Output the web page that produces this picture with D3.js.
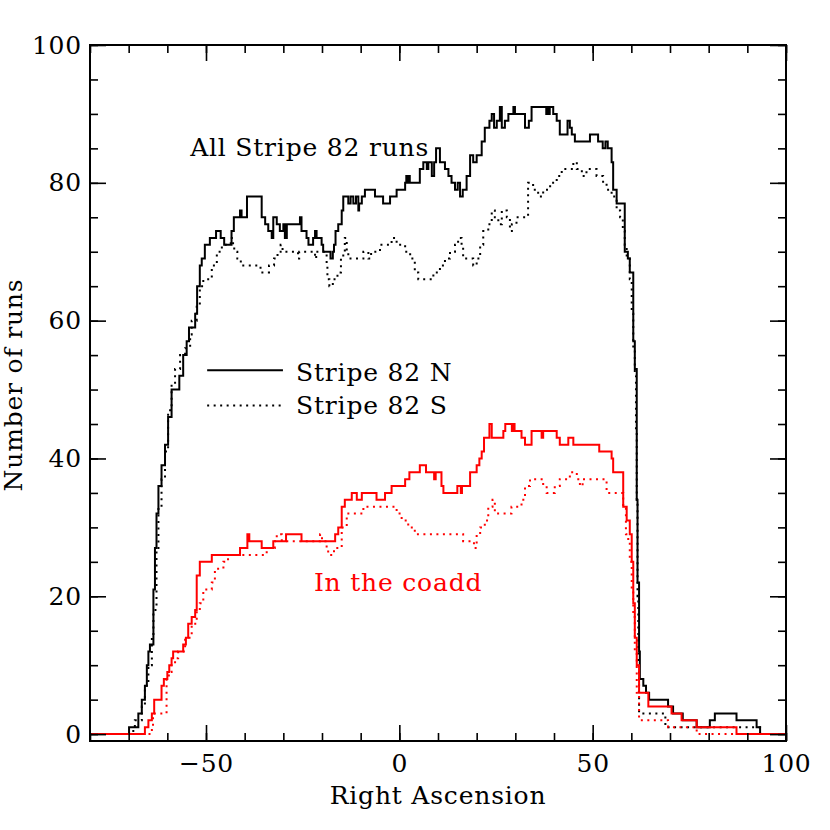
<!DOCTYPE html>
<html>
<head>
<meta charset="utf-8">
<script src="https://cdn.jsdelivr.net/npm/d3@7"></script>
<style>
  body { margin: 0; background: #fff; }
  text { font-family: "DejaVu Serif", serif; letter-spacing: 0.8px; }
</style>
</head>
<body>
<div id="chart"></div>
<script>
// Dimensions
const width = 830;
const height = 830;
const margin = {top: 45, right: 44, bottom: 89, left: 90};
const fontSize = "25px";

// --- Data: step histograms (RA where the count changes, count from there on) ---
const nRA = [-80, -69.9, -67.5, -66.6, -65.8, -65.3, -64.9, -64.5, -63.6, -63.2, -62.8, -62.3, -61.5, -60.6, -59.8, -58.9,
  -56.9, -55.9, -55.0, -54.4, -52.8, -52.3, -51.6, -51.1, -50.3, -49.0, -47.4, -46.2, -45.3, -43.4, -42.8, -41.2,
  -40.8, -39.4, -35.6, -34.7, -33.9, -33.0, -32.6, -31.7, -30.9, -30.0, -29.6, -29.1, -25.7, -25.3, -24.0, -23.5,
  -22.3, -21.8, -21.4, -20.1, -19.7, -17.8, -17.2, -16.9, -16.5, -15.8, -14.9, -14.5, -13.2, -12.6, -11.9, -11.2,
  -10.6, -10.4, -9.7, -8.9, -6.3, -4.2, -2.4, -0.7, 1.5, 1.8, 2.1, 2.4, 2.7, 5.3, 6.2, 7.1, 7.5, 8.4, 9.0, 9.5,
  10.5, 11.8, 12.7, 13.5, 14.4, 15.1, 15.7, 16.4, 17.4, 18.3, 19.1, 20.0, 21.3, 22.1, 23.3, 23.9, 24.5, 25.2,
  26.0, 26.5, 27.3, 28.2, 29.5, 29.9, 32.5, 33.5, 34.2, 38.0, 38.3, 38.6, 38.9, 39.8, 40.7, 41.5, 43.5, 44.1,
  44.6, 45.4, 49.3, 51.4, 52.6, 53.3, 53.9, 54.9, 55.3, 56.2, 58.3, 59.1, 59.6, 60.5, 60.9, 61.4, 61.6, 62.0,
  62.2, 63.1, 63.8, 64.6, 69.5, 70.8, 73.3, 76.9, 80.3, 81.6, 87.2, 92.4, 93.3];
const nRuns = [0, 1, 3, 5, 7, 10, 12, 13, 21, 27, 32, 36, 39, 42, 46, 50,
  52, 55, 57, 59, 61, 65, 68, 69, 71, 72, 73, 72, 71, 73, 75, 76,
  75, 78, 75, 74, 73, 72, 75, 74, 73, 74, 72, 74, 75, 73, 72, 71,
  72, 73, 72, 71, 70, 69, 70, 71, 73, 74, 76, 78, 77, 78, 77, 78,
  76, 77, 78, 79, 78, 77, 78, 79, 80, 81, 80, 81, 80, 82, 83, 82, 83, 81, 83, 85,
  83, 82, 81, 80, 79, 80, 78, 79, 81, 84, 83, 84, 86, 88, 89, 90, 88, 89,
  91, 88, 89, 90, 91, 90, 88, 89, 91, 90, 91, 90, 91, 90, 89, 87, 89, 88,
  87, 86, 87, 86, 85, 86, 85, 83, 79, 77, 70, 69, 67, 57, 53, 34, 22, 12,
  8, 7, 6, 5, 4, 3, 2, 1, 2, 3, 2, 1, 0];

const sRA = [-80, -68.8, -68.4, -66.6, -65.8, -64.9, -64.0, -63.6, -62.8, -62.3, -61.5, -60.6, -59.8, -58.9, -58.0,
  -56.7, -55.4, -54.1, -53.7, -52.4, -51.6, -50.7, -48.5, -47.2, -45.9, -43.6, -43.0, -42.7, -41.9, -41.0, -35.9,
  -33.7, -32.4, -31.5, -30.7, -30.2, -26.2, -25.9, -21.8, -21.5, -18.8, -18.6, -18.1, -17.2, -16.0, -15.1, -14.5,
  -14.1, -13.6, -13.2, -9.3, -8.0, -7.3, -5.0, -2.0, -0.7, 1.5, 2.8, 4.0, 4.9, 8.8, 10.5, 11.8, 13.1, 14.4, 15.2,
  16.1, 16.5, 19.1, 20.0, 20.9, 21.7, 23.0, 23.9, 24.7, 25.6, 26.5, 27.8, 28.6, 29.1, 30.3, 33.3, 34.6, 35.9,
  37.2, 39.0, 40.7, 42.0, 45.0, 45.9, 47.2, 48.4, 51.0, 52.7, 53.6, 54.9, 56.2, 57.1, 57.8, 58.3, 58.8, 59.6,
  60.1, 60.5, 60.9, 61.2, 61.4, 61.6, 61.8, 62.0, 68.8, 93.3];
const sRuns = [0, 1, 2, 4, 7, 10, 14, 18, 27, 33, 37, 41, 47, 51, 53,
  55, 56, 58, 60, 62, 65, 66, 68, 70, 71, 72, 71, 70, 69, 68, 67,
  68, 69, 70, 71, 70, 69, 70, 69, 70, 68, 66, 65, 66, 67, 69, 70,
  72, 70, 69, 70, 69, 70, 71, 72, 71, 70, 69, 67, 66, 67, 68, 69, 70, 71, 72,
  71, 69, 68, 69, 71, 73, 74, 76, 75, 74, 76, 75, 73, 74, 75, 80, 79, 78,
  79, 80, 81, 82, 83, 82, 81, 82, 81, 80, 79, 78, 76, 75, 73, 71, 69, 66,
  61, 56, 52, 44, 34, 20, 10, 3, 1, 0];

const coaddNRA = [-80, -65.8, -64.9, -64.0, -63.4, -61.5, -60.9, -60.0, -59.5, -58.9, -58.5, -55.9, -55.2, -54.6,
  -53.7, -52.8, -52.4, -51.6, -48.5, -41.2, -39.3, -38.8, -35.6, -32.6, -29.3, -25.3, -16.6, -15.8, -14.9, -14.1,
  -12.3, -11.0, -9.7, -5.9, -3.7, -2.0, 1.5, 2.6, 5.3, 6.9, 9.0, 9.4, 10.9, 11.4, 15.0, 15.9, 16.2, 18.3, 20.0,
  20.7, 21.3, 21.9, 23.3, 23.9, 26.9, 27.4, 29.1, 29.4, 29.8, 31.6, 32.5, 34.2, 36.8, 37.2, 40.7, 41.5, 43.7,
  45.0, 51.7, 54.9, 55.3, 57.9, 58.8, 59.6, 60.1, 60.5, 60.9, 61.4, 62.0, 64.4, 70.4, 73.0, 76.9, 87.2];
const coaddNRuns = [0, 1, 2, 3, 5, 7, 8, 9, 10, 11, 12, 13, 14, 16,
  17, 18, 23, 25, 26, 27, 29, 28, 27, 28, 29, 28, 29, 30, 33, 34,
  35, 34, 35, 34, 35, 36, 37, 38, 39, 38, 37, 38, 36, 35, 36, 35, 36, 38, 39,
  40, 41, 43, 45, 43, 44, 45, 44, 45, 44, 43, 42, 44, 43, 44, 43, 42, 43,
  42, 41, 40, 38, 33, 31, 29, 25, 19, 14, 10, 6, 4, 3, 2, 1, 0];

const coaddSRA = [-80, -64.0, -63.7, -60.2, -59.6, -58.9, -58.0, -57.2, -55.4, -53.7, -52.4, -51.6, -50.7, -48.5,
  -47.7, -45.5, -44.3, -34.3, -32.2, -31.7, -30.4, -20.5, -20.0, -18.8, -18.4, -16.9, -14.9, -13.6, -9.3, -0.7,
  0.6, 2.3, 4.0, 16.5, 19.3, 20.0, 20.9, 22.1, 23.0, 24.1, 24.7, 29.0, 31.6, 32.5, 33.8, 37.2, 38.1, 40.2, 41.5,
  44.1, 45.9, 46.7, 47.4, 53.6, 57.9, 58.6, 59.2, 59.6, 60.1, 60.5, 60.9, 61.4, 62.0, 69.5, 76.9];
const coaddSRuns = [0, 1, 3, 8, 9, 10, 11, 12, 14, 16, 18, 19, 21, 22,
  24, 25, 26, 27, 28, 29, 28, 29, 28, 27, 26, 27, 30, 32, 33, 32,
  31, 30, 29, 28, 27, 29, 30, 31, 33, 34, 32, 33, 34, 36, 37, 36, 35, 36, 37,
  38, 37, 36, 37, 35, 33, 29, 28, 25, 21, 17, 12, 6, 2, 1, 0];

// Axis ticks
const xMajor = [-50, 0, 50, 100];
const xMinor = d3.range(-80, 101, 10);
const yMajor = [0, 20, 40, 60, 80, 100];
const yMinor = d3.range(0, 101, 5);

// --- Scales ---
const x = d3.scaleLinear().domain([-80, 100]).range([margin.left, width - margin.right]);
const y = d3.scaleLinear().domain([-1, 100]).range([height - margin.bottom, margin.top]);

const svg = d3.select("#chart").append("svg")
  .attr("width", width)
  .attr("height", height);

// Steps: each point holds until the next, last one runs to the right edge
function steps(ra, runs) {
  const pts = ra.map((r, i) => [r, runs[i]]);
  pts.push([100, runs[runs.length - 1]]);
  return pts;
}

const line = d3.line()
  .curve(d3.curveStepAfter)
  .x(d => x(d[0]))
  .y(d => y(d[1]));

const series = [
  {pts: steps(sRA, sRuns), color: "#000", dash: "2,4.5"},
  {pts: steps(nRA, nRuns), color: "#000", dash: null},
  {pts: steps(coaddSRA, coaddSRuns), color: "#ff0000", dash: "2,4.5"},
  {pts: steps(coaddNRA, coaddNRuns), color: "#ff0000", dash: null}
];

svg.selectAll("path.series")
  .data(series)
  .join("path")
  .attr("class", "series")
  .attr("d", d => line(d.pts))
  .attr("fill", "none")
  .attr("stroke", d => d.color)
  .attr("stroke-width", 2)
  .attr("stroke-dasharray", d => d.dash);

// --- Axes (ticks inward on all four sides) ---
const plotW = width - margin.left - margin.right;
const plotH = height - margin.top - margin.bottom;

function styleAxis(g) {
  g.select(".domain").remove();
  g.selectAll(".tick line").attr("stroke", "#000").attr("stroke-width", 1.6);
  g.selectAll(".tick text").attr("fill", "#000").attr("font-size", fontSize)
    .attr("font-family", "DejaVu Serif, serif");
}

// bottom
svg.append("g").attr("transform", `translate(0,${height - margin.bottom})`)
  .call(d3.axisBottom(x).tickValues(xMinor).tickSize(-8).tickFormat(""))
  .call(styleAxis);
svg.append("g").attr("transform", `translate(0,${height - margin.bottom})`)
  .call(d3.axisBottom(x).tickValues(xMajor).tickSize(-16).tickPadding(13))
  .call(styleAxis);
// top
svg.append("g").attr("transform", `translate(0,${margin.top})`)
  .call(d3.axisTop(x).tickValues(xMinor).tickSize(-8).tickFormat(""))
  .call(styleAxis);
svg.append("g").attr("transform", `translate(0,${margin.top})`)
  .call(d3.axisTop(x).tickValues(xMajor).tickSize(-16).tickFormat(""))
  .call(styleAxis);
// left
svg.append("g").attr("transform", `translate(${margin.left},0)`)
  .call(d3.axisLeft(y).tickValues(yMinor).tickSize(-8).tickFormat(""))
  .call(styleAxis);
svg.append("g").attr("transform", `translate(${margin.left},0)`)
  .call(d3.axisLeft(y).tickValues(yMajor).tickSize(-16).tickPadding(8))
  .call(styleAxis);
// right
svg.append("g").attr("transform", `translate(${width - margin.right},0)`)
  .call(d3.axisRight(y).tickValues(yMinor).tickSize(-8).tickFormat(""))
  .call(styleAxis);
svg.append("g").attr("transform", `translate(${width - margin.right},0)`)
  .call(d3.axisRight(y).tickValues(yMajor).tickSize(-16).tickFormat(""))
  .call(styleAxis);

// frame
svg.append("rect")
  .attr("x", margin.left).attr("y", margin.top)
  .attr("width", plotW).attr("height", plotH)
  .attr("fill", "none").attr("stroke", "#000").attr("stroke-width", 2);

// --- Axis titles ---
svg.append("text")
  .attr("x", margin.left + plotW / 2).attr("y", 804)
  .attr("text-anchor", "middle").attr("font-size", fontSize)
  .text("Right Ascension");

svg.append("text")
  .attr("transform", `translate(22,${margin.top + plotH / 2 - 8}) rotate(-90)`)
  .attr("text-anchor", "middle").attr("font-size", fontSize)
  .text("Number of runs");

// --- Annotations and legend ---
svg.append("text")
  .attr("x", x(-54.1)).attr("y", y(83.9))
  .attr("font-size", fontSize)
  .text("All Stripe 82 runs");

svg.append("line")
  .attr("x1", x(-49.7)).attr("x2", x(-30.1))
  .attr("y1", y(52.8)).attr("y2", y(52.8))
  .attr("stroke", "#000").attr("stroke-width", 2);
svg.append("text")
  .attr("x", x(-26.7)).attr("y", y(51.2))
  .attr("font-size", fontSize)
  .text("Stripe 82 N");

svg.append("line")
  .attr("x1", x(-49.7)).attr("x2", x(-30.1))
  .attr("y1", y(47.7)).attr("y2", y(47.7))
  .attr("stroke", "#000").attr("stroke-width", 2)
  .attr("stroke-dasharray", "2,4.5");
svg.append("text")
  .attr("x", x(-26.7)).attr("y", y(46.4))
  .attr("font-size", fontSize)
  .text("Stripe 82 S");

svg.append("text")
  .attr("x", x(-22.1)).attr("y", y(20.8))
  .attr("font-size", fontSize)
  .attr("fill", "#ff0000")
  .text("In the coadd");
</script>
</body>
</html>
